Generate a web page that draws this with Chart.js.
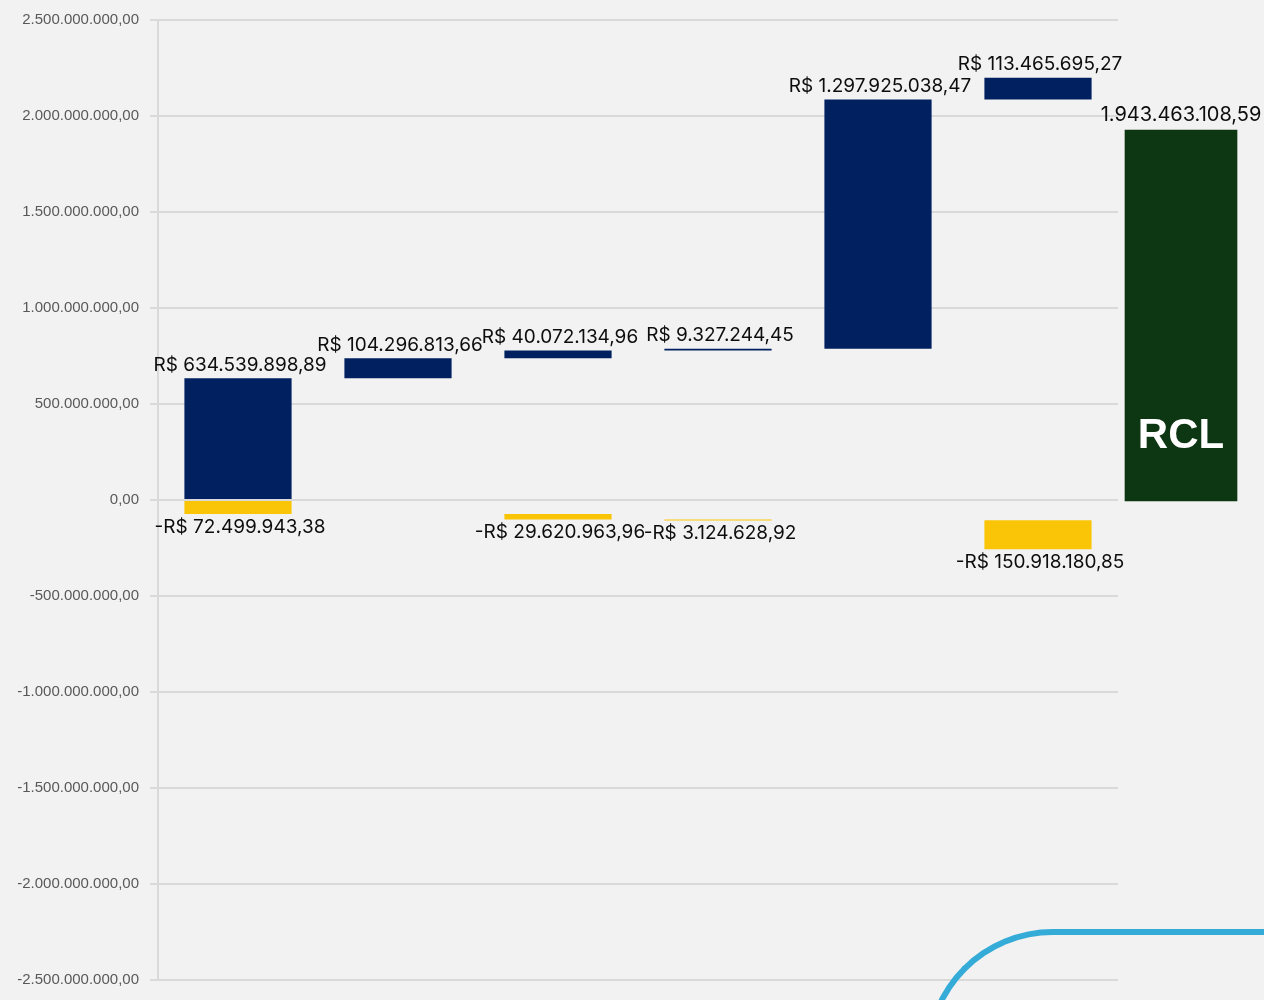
<!DOCTYPE html>
<html>
<head>
<meta charset="utf-8">
<script src="https://cdn.jsdelivr.net/npm/chart.js@4"></script>
<style>
    body { margin: 0; background: #f2f2f2; overflow: hidden; }
    #wrap { position: relative; width: 1264px; height: 1000px; }
    #main { position: absolute; left: 0; top: 0; }
    #total { position: absolute; left: 1098px; top: 0; }
    .arc {
        position: absolute; left: 925px; top: 929px; width: 420px; height: 300px;
        border-top: 6px solid #35acd8; border-left: 6px solid #35acd8;
        border-top-left-radius: 128px; box-sizing: border-box;
    }
</style>
</head>
<body>
<div id="wrap">
    <canvas id="main" width="1264" height="1000"></canvas>
    <canvas id="total" width="166" height="1000"></canvas>
    <div class="arc"></div>
</div>
<script>
// step labels (not shown on the chart)
const categories = ['1', '2', '3', '4', '5', '6'];
const increases = [634539898.89, 104296813.66, 40072134.96, 9327244.45, 1297925038.47, 113465695.27];
const decreases = [-72499943.38, null, -29620963.96, -3124628.92, null, -150918180.85];
const totalCategory = ['RCL'];
const yMin = -2500000000;
const yMax = 2500000000;
const yStep = 500000000;

// waterfall: running totals for the floating bars
let runUp = 0, runDown = 0;
const upBars = increases.map(v => { const r = [runUp, runUp + v]; runUp += v; return r; });
const downBars = decreases.map(v => {
    if (v == null) return null;
    const r = [runDown, runDown + v];
    runDown += v;
    return r;
});
const totalValue = Math.round((runUp + runDown) * 100) / 100;

const fmtNumber = (v) => {
    const neg = v < 0;
    const parts = Math.abs(v).toFixed(2).split('.');
    const intPart = parts[0].replace(/\B(?=(\d{3})+(?!\d))/g, '.');
    return (neg ? '-' : '') + intPart + ',' + parts[1];
};
const fmtMoney = (v) => (v < 0 ? '-R$ ' : 'R$ ') + fmtNumber(Math.abs(v));

const labelFont = '19px Inter, "Liberation Sans", Arial, sans-serif';

const valueLabels = {
    id: 'valueLabels',
    afterDatasetsDraw(chart) {
        const ctx = chart.ctx;
        ctx.save();
        ctx.font = labelFont;
        ctx.fillStyle = '#0d0d0d';
        ctx.textAlign = 'center';
        ctx.textBaseline = 'middle';
        chart.data.datasets.forEach((ds, di) => {
            chart.getDatasetMeta(di).data.forEach((bar, i) => {
                const v = ds.raw[i];
                if (v == null) return;
                const top = Math.min(bar.y, bar.base);
                const bottom = Math.max(bar.y, bar.base);
                ctx.fillText(fmtMoney(v), bar.x + 2, v >= 0 ? top - 13 : bottom + 13);
            });
        });
        ctx.restore();
    }
};

new Chart(document.getElementById('main'), {
    type: 'bar',
    data: {
        labels: categories,
        datasets: [
            { data: upBars, raw: increases, backgroundColor: '#002060', grouped: false,
              barPercentage: 1, categoryPercentage: 0.67, minBarLength: 1 },
            { data: downBars, raw: decreases, backgroundColor: '#fac506', grouped: false,
              barPercentage: 1, categoryPercentage: 0.67, minBarLength: 1 }
        ]
    },
    options: {
        responsive: false,
        animation: false,
        layout: { padding: { left: 0, top: 18, right: 146, bottom: 12 } },
        plugins: { legend: { display: false }, tooltip: { enabled: false } },
        scales: {
            x: { display: false },
            y: {
                min: yMin,
                max: yMax,
                afterFit: (s) => { s.width = 158; },
                ticks: {
                    stepSize: yStep,
                    padding: 11,
                    color: '#595959',
                    font: { family: '"Liberation Sans", Arial, sans-serif', size: 15 },
                    callback: (v) => fmtNumber(v)
                },
                grid: { color: '#d9d9d9', lineWidth: 2, tickLength: 8 },
                border: { color: '#d9d9d9', width: 2 }
            }
        }
    },
    plugins: [valueLabels]
});

const totalLabels = {
    id: 'totalLabels',
    afterDatasetsDraw(chart) {
        const ctx = chart.ctx;
        const bar = chart.getDatasetMeta(0).data[0];
        ctx.save();
        ctx.textAlign = 'center';
        ctx.textBaseline = 'middle';
        ctx.font = '20px Inter, "Liberation Sans", Arial, sans-serif';
        ctx.fillStyle = '#0d0d0d';
        ctx.fillText(fmtNumber(totalValue), bar.x, bar.y - 15);
        ctx.font = 'bold 42px "Liberation Sans", Arial, sans-serif';
        ctx.fillStyle = '#ffffff';
        ctx.fillText(totalCategory[0], bar.x, bar.base - 65);
        ctx.restore();
    }
};

new Chart(document.getElementById('total'), {
    type: 'bar',
    data: {
        labels: totalCategory,
        datasets: [{ data: [[0, totalValue]], backgroundColor: '#0d3613', barThickness: 112 }]
    },
    options: {
        responsive: false,
        animation: false,
        layout: { padding: { left: 0, top: 24, right: 0, bottom: 22 } },
        plugins: { legend: { display: false }, tooltip: { enabled: false } },
        scales: {
            x: { display: false },
            y: { display: false, min: yMin, max: yMax }
        }
    },
    plugins: [totalLabels]
});
</script>
</body>
</html>
